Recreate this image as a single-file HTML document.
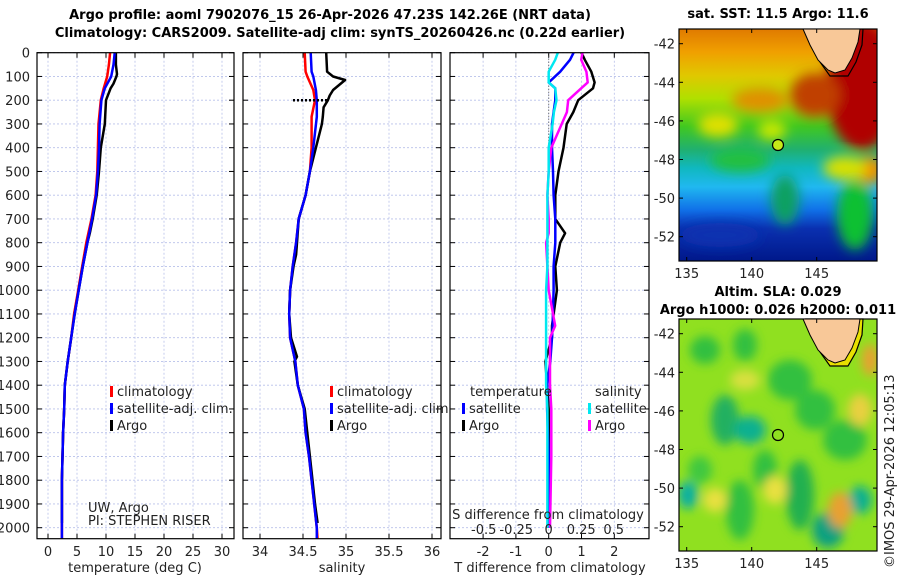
<!DOCTYPE html>
<html><head><meta charset="utf-8">
<style>
html,body{margin:0;padding:0;background:#fff;}
svg{display:block;font-family:"DejaVu Sans","Liberation Sans",sans-serif;}
.tk{font-size:13px;fill:#222;}
.bt{font-size:13px;font-weight:bold;fill:#000;}
</style></head>
<body>
<svg id="fig" width="900" height="580" viewBox="0 0 900 580">
<defs>
<filter id="blur1" x="-20%" y="-20%" width="140%" height="140%"><feGaussianBlur stdDeviation="6"/></filter>
<filter id="blur2" x="-20%" y="-20%" width="140%" height="140%"><feGaussianBlur stdDeviation="5"/></filter>
<clipPath id="m1clip"><rect x="679" y="29" width="198" height="232"/></clipPath>
<clipPath id="m2clip"><rect x="679" y="319" width="198" height="232"/></clipPath>
<clipPath id="p1clip"><rect x="37" y="52.7" width="197" height="486"/></clipPath>
<clipPath id="p2clip"><rect x="243" y="52.7" width="198" height="486"/></clipPath>
<clipPath id="p3clip"><rect x="450" y="52.7" width="199" height="486"/></clipPath>
<linearGradient id="sstg" x1="0" y1="0" x2="0" y2="1">
<stop offset="0" stop-color="#e07a00"/><stop offset="0.1" stop-color="#f0a000"/>
<stop offset="0.2" stop-color="#e0c800"/><stop offset="0.3" stop-color="#b0e000"/>
<stop offset="0.42" stop-color="#40c820"/><stop offset="0.52" stop-color="#20b070"/>
<stop offset="0.6" stop-color="#10b8c0"/><stop offset="0.68" stop-color="#20b8f0"/>
<stop offset="0.78" stop-color="#1070e8"/><stop offset="0.86" stop-color="#0a30b0"/>
<stop offset="1" stop-color="#00188a"/>
</linearGradient>
</defs>

<g>
<text class="bt" x="330" y="19" text-anchor="middle">Argo profile: aoml 7902076_15 26-Apr-2026 47.23S 142.26E (NRT data)</text>
<text class="bt" x="340" y="37" text-anchor="middle">Climatology: CARS2009. Satellite-adj clim: synTS_20260426.nc (0.22d earlier)</text>
</g>

<g id="panels"></g>

<!-- SST map -->
<g>
<text class="bt" x="778" y="18" text-anchor="middle">sat. SST: 11.5 Argo: 11.6</text>
<g clip-path="url(#m1clip)">
<rect x="679" y="29" width="198" height="232" fill="url(#sstg)"/>
<g filter="url(#blur1)">
<ellipse cx="862" cy="85" rx="36" ry="65" fill="#b00000"/>
<ellipse cx="815" cy="95" rx="25" ry="22" fill="#c04000"/>
<ellipse cx="870" cy="170" rx="14" ry="14" fill="#f09000"/>
<ellipse cx="845" cy="168" rx="22" ry="12" fill="#d8e000"/>
<ellipse cx="760" cy="100" rx="28" ry="12" fill="#e09000"/>
<ellipse cx="718" cy="125" rx="20" ry="12" fill="#e0e000"/>
<ellipse cx="772" cy="130" rx="14" ry="10" fill="#c8e800"/>
<ellipse cx="740" cy="160" rx="30" ry="12" fill="#20c040"/>
<ellipse cx="785" cy="200" rx="14" ry="25" fill="#10a060"/>
<ellipse cx="855" cy="215" rx="18" ry="35" fill="#10c030"/>
<ellipse cx="720" cy="235" rx="40" ry="12" fill="#0a30b0"/>
</g>
</g>
<rect x="679" y="29" width="198" height="232" fill="none" stroke="#000" stroke-width="1.2"/>
<path d="M806,29 L812,45 L820,62 L830,76 L848,76 L856,62 L862,45 L863,29" fill="none" stroke="#000" stroke-width="1.2"/>
<path d="M803,29 L810,45 L818,60 L828,70 L835,73 L845,70 L852,58 L858,42 L860,29 Z" fill="#f8c898" stroke="#000" stroke-width="1"/>
<circle cx="778" cy="145" r="5.5" fill="#c8e818" stroke="#000" stroke-width="1.2"/>
</g>
<g id="m1ticks"></g>

<!-- SLA map -->
<g>
<text class="bt" x="778" y="296" text-anchor="middle">Altim. SLA: 0.029</text>
<text class="bt" x="778" y="314" text-anchor="middle">Argo h1000: 0.026 h2000: 0.011</text>
<g clip-path="url(#m2clip)">
<rect x="679" y="319" width="198" height="232" fill="#90e020"/>
<g filter="url(#blur2)">
<ellipse cx="705" cy="350" rx="15" ry="14" fill="#30c040"/>
<ellipse cx="745" cy="345" rx="12" ry="16" fill="#30c040"/>
<ellipse cx="790" cy="380" rx="22" ry="20" fill="#30c040"/>
<ellipse cx="725" cy="420" rx="14" ry="25" fill="#20b060"/>
<ellipse cx="750" cy="430" rx="16" ry="14" fill="#10b090"/>
<ellipse cx="815" cy="410" rx="20" ry="20" fill="#30c040"/>
<ellipse cx="845" cy="440" rx="22" ry="20" fill="#30c040"/>
<ellipse cx="700" cy="470" rx="12" ry="14" fill="#40c840"/>
<ellipse cx="765" cy="470" rx="12" ry="20" fill="#30c040"/>
<ellipse cx="740" cy="510" rx="14" ry="30" fill="#30c040"/>
<ellipse cx="800" cy="495" rx="14" ry="35" fill="#20b050"/>
<ellipse cx="828" cy="530" rx="16" ry="18" fill="#10a080"/>
<ellipse cx="860" cy="500" rx="12" ry="14" fill="#10b090"/>
<ellipse cx="688" cy="495" rx="10" ry="14" fill="#10b0a0"/>
<ellipse cx="715" cy="500" rx="12" ry="12" fill="#e8e040"/>
<ellipse cx="775" cy="490" rx="12" ry="14" fill="#e8e040"/>
<ellipse cx="840" cy="510" rx="12" ry="18" fill="#e8a030"/>
<ellipse cx="870" cy="360" rx="8" ry="16" fill="#e8a030"/>
<ellipse cx="860" cy="410" rx="12" ry="16" fill="#e8d040"/>
<ellipse cx="745" cy="380" rx="15" ry="10" fill="#d8e040"/>
</g>
</g>
<rect x="679" y="319" width="198" height="232" fill="none" stroke="#000" stroke-width="1.2"/>
<path d="M806,319 L812,335 L820,352 L830,366 L848,366 L856,352 L862,335 L863,319 Z" fill="#e8e000" stroke="#000" stroke-width="1.2"/>
<path d="M803,319 L810,335 L818,350 L828,360 L835,363 L845,360 L852,348 L858,332 L860,319 Z" fill="#f8c898" stroke="#000" stroke-width="1"/>
<circle cx="778" cy="435" r="5.5" fill="none" stroke="#000" stroke-width="1.2"/>
</g>
<g id="m2ticks"></g>
<text class="tk" transform="translate(894,568) rotate(-90)" font-size="13">©IMOS 29-Apr-2026 12:05:13</text>
</svg>

<script>
// depth levels (m)
const depthClim = [0,50,100,150,200,300,400,500,600,700,800,900,1000,1100,1200,1300,1400,1500,1600,1800,2000,2050];
const tempClim  = [10.7,10.5,10.2,9.6,9.1,8.7,8.6,8.5,8.2,7.5,6.6,5.9,5.2,4.5,4.0,3.4,2.9,2.8,2.6,2.4,2.4,2.4];
const tempSat   = [11.5,11.3,10.9,9.8,9.2,8.9,8.8,8.6,8.3,7.6,6.8,6.0,5.3,4.6,4.0,3.4,2.9,2.8,2.6,2.4,2.4,2.4];
const depthArgo = [0,50,90,100,130,150,200,250,300,400,500,600,700,760,800,900,1000,1100,1200,1300,1400,1500,1600,1800,1980];
const tempArgo  = [11.7,11.7,11.9,11.8,11.3,10.8,10.0,9.9,9.8,9.1,8.8,8.4,7.7,7.2,6.8,6.0,5.3,4.6,4.0,3.4,2.9,2.8,2.6,2.4,2.4];

const salClimDepth = [0,80,100,157,200,270,400,500,600,700,800,900,1000,1100,1200,1300,1400,1500,1600,1700,1800,1900,2000,2050];
const salClim = [34.52,34.53,34.55,34.62,34.64,34.60,34.60,34.58,34.53,34.45,34.42,34.38,34.35,34.34,34.35,34.41,34.44,34.51,34.53,34.57,34.60,34.63,34.66,34.67];
const salSat  = [34.59,34.60,34.62,34.65,34.66,34.66,34.62,34.58,34.53,34.45,34.42,34.38,34.35,34.34,34.35,34.41,34.44,34.51,34.53,34.57,34.60,34.63,34.66,34.66];
const salArgoDepth = [0,80,100,115,157,180,200,230,270,300,400,500,600,700,800,850,900,1000,1100,1200,1280,1300,1400,1500,1600,1700,1800,1900,1980];
const salArgo = [34.77,34.78,34.85,34.99,34.85,34.81,34.79,34.74,34.73,34.72,34.65,34.58,34.53,34.45,34.43,34.42,34.39,34.35,34.34,34.36,34.43,34.40,34.44,34.52,34.55,34.58,34.61,34.64,34.67];

// differences from climatology
const diffDepth = [0,30,80,125,150,200,250,300,400,500,600,700,760,800,900,1000,1150,1200,1300,1400,1500,1700,2000];
const dTsat  = [0.76,0.65,0.35,0.0,0.2,0.2,0.15,0.1,0.1,0.13,0.15,0.2,0.2,0.2,0.15,0.15,0.12,0.1,0.05,-0.05,-0.05,0.0,0.0];
const dTargo = [1.0,1.1,1.3,1.4,1.35,0.9,0.75,0.55,0.45,0.3,0.2,0.2,0.5,0.35,0.2,0.25,0.1,0.1,-0.1,-0.05,0.0,0.0,0.0];
const dSsat  = [0.07,0.05,0.0,0.0,0.05,0.06,0.04,0.03,0.0,0.0,-0.01,-0.01,-0.01,-0.01,-0.01,-0.02,-0.02,-0.02,-0.02,-0.02,-0.01,-0.01,-0.01];
const dSargo = [0.26,0.25,0.29,0.3,0.25,0.15,0.14,0.1,0.02,0.0,-0.01,0.0,0.0,-0.02,-0.01,0.0,0.05,0.01,0.01,0.01,0.02,0.02,0.01];

const depthTicks = [0,100,200,300,400,500,600,700,800,900,1000,1100,1200,1300,1400,1500,1600,1700,1800,1900,2000];
const tempTicks = [0,5,10,15,20,25,30];
const salTicks = [34,34.5,35,35.5,36];
const salTickLabels = ["34","34.5","35","35.5","36"];
const dTTicks = [-2,-1,0,1,2];
const dSTicks = [-0.5,-0.25,0,0.25,0.5];
const dSTickLabels = ["-0.5","-0.25","0","0.25","0.5"];
const latTicks = [-42,-44,-46,-48,-50,-52];
const lonTicks = [135,140,145];

const NS = "http://www.w3.org/2000/svg";
const yD = d => 52.7 + d * 0.2375;
const x1 = t => 48 + t * 5.8;
const x2 = s => 346 + (s - 35) * 86;
const x3T = t => 548.7 + t * 32.8;
const x3S = s => 548.7 + s * 130;
const latY1 = la => 43.7 + (-42 - la) * 19.3;
const lonX = lo => 686.7 + (lo - 135) * 13;

const root = document.getElementById('panels');
function el(tag, attrs, parent) {
  const e = document.createElementNS(NS, tag);
  for (const k in attrs) e.setAttribute(k, attrs[k]);
  (parent || root).appendChild(e);
  return e;
}
function line(xs, ys, fx, fy, color, parent, name) {
  let d = '';
  for (let i = 0; i < xs.length; i++) d += (i ? 'L' : 'M') + fx(xs[i]).toFixed(1) + ',' + fy(ys[i]).toFixed(1);
  const p = el('path', {d: d, fill: 'none', stroke: color, 'stroke-width': 2.5, 'stroke-linejoin': 'round'}, parent);
  
  
  return p;
}
function text(x, y, s, anchor, parent, size) {
  const t = el('text', {x: x, y: y, 'text-anchor': anchor || 'start', class: 'tk'}, parent);
  if (size) t.setAttribute('font-size', size);
  t.textContent = s;
  return t;
}

function panel(name, left, right, xticks, fx, labels) {
  const g = el('g', {});
  
  
  el('rect', {x: left, y: 52.7, width: right - left, height: 486, fill: '#fff'}, g);
  for (const d of depthTicks) {
    el('line', {x1: left, x2: right, y1: yD(d), y2: yD(d), stroke: '#b8c0ea', 'stroke-width': 0.8, 'stroke-dasharray': '2,2'}, g);
    el('line', {x1: left, x2: left + 5, y1: yD(d), y2: yD(d), stroke: '#000'}, g);
    el('line', {x1: right - 5, x2: right, y1: yD(d), y2: yD(d), stroke: '#000'}, g);
  }
  xticks.forEach((v, i) => {
    el('line', {x1: fx(v), x2: fx(v), y1: 52.7, y2: 538.7, stroke: '#b8c0ea', 'stroke-width': 0.8, 'stroke-dasharray': '2,2'}, g);
    el('line', {x1: fx(v), x2: fx(v), y1: 533.7, y2: 538.7, stroke: '#000'}, g);
    el('line', {x1: fx(v), x2: fx(v), y1: 52.7, y2: 57.7, stroke: '#000'}, g);
    if (labels) text(fx(v), 556, labels[i], 'middle', g);
  });
  return g;
}

// panel 1
const g1 = panel('temperature-panel', 37, 234, tempTicks, x1, tempTicks.map(String));
depthTicks.forEach(d => text(30, yD(d) + 5, String(d), 'end', g1));
const c1 = el('g', {'clip-path': 'url(#p1clip)'}, g1);
line(tempClim, depthClim, x1, yD, '#ff0000', c1, 'temp-climatology-line');
line(tempArgo, depthArgo, x1, yD, '#000000', c1, 'temp-argo-line');
line(tempSat, depthClim, x1, yD, '#0000ff', c1, 'temp-satellite-line');
el('rect', {x: 37, y: 52.7, width: 197, height: 486, fill: 'none', stroke: '#000', 'stroke-width': 1.2}, g1);
text(135, 572, 'temperature (deg C)', 'middle', g1);

// panel 2
const g2 = panel('salinity-panel', 243, 441, salTicks, x2, salTickLabels);
const c2 = el('g', {'clip-path': 'url(#p2clip)'}, g2);
line(salClim, salClimDepth, x2, yD, '#ff0000', c2, 'sal-climatology-line');
line(salArgo, salArgoDepth, x2, yD, '#000000', c2, 'sal-argo-line');
line(salSat, salClimDepth, x2, yD, '#0000ff', c2, 'sal-satellite-line');
el('line', {x1: 293, x2: 327, y1: yD(200), y2: yD(200), stroke: '#000', 'stroke-width': 2.5, 'stroke-dasharray': '2,2'}, g2);
el('rect', {x: 243, y: 52.7, width: 198, height: 486, fill: 'none', stroke: '#000', 'stroke-width': 1.2}, g2);
text(342, 572, 'salinity', 'middle', g2);

// panel 3
const g3 = panel('difference-panel', 450, 649, dTTicks, x3T, dTTicks.map(String));
const c3 = el('g', {'clip-path': 'url(#p3clip)'}, g3);
el('line', {x1: x3T(0), x2: x3T(0), y1: 52.7, y2: yD(400), stroke: '#555', 'stroke-width': 1, 'stroke-dasharray': '1,2'}, c3);
line(dTargo, diffDepth, x3T, yD, '#000000', c3, 'diff-temp-argo-line');
line(dTsat, diffDepth, x3T, yD, '#0000ff', c3, 'diff-temp-satellite-line');
line(dSargo, diffDepth, x3S, yD, '#ff00ff', c3, 'diff-sal-argo-line');
line(dSsat, diffDepth, x3S, yD, '#00e8f0', c3, 'diff-sal-satellite-line');
el('rect', {x: 450, y: 52.7, width: 199, height: 486, fill: 'none', stroke: '#000', 'stroke-width': 1.2}, g3);
text(548, 519, 'S difference from climatology', 'middle', g3);
dSTicks.forEach((v, i) => text(x3S(v), 534, dSTickLabels[i], 'middle', g3));
text(550, 572, 'T difference from climatology', 'middle', g3);

// legends
function legItem(x, y, color, label, parent) {
  el('rect', {x: x, y: y - 10, width: 3, height: 11, fill: color}, parent);
  text(x + 7, y, label, 'start', parent);
}
const l1 = el('g', {}, g1);


legItem(110, 396, '#ff0000', 'climatology', l1);
legItem(110, 413, '#0000ff', 'satellite-adj. clim.', l1);
legItem(110, 430, '#000000', 'Argo', l1);
const l2 = el('g', {}, g2);


legItem(330, 396, '#ff0000', 'climatology', l2);
legItem(330, 413, '#0000ff', 'satellite-adj. clim.', l2);
legItem(330, 430, '#000000', 'Argo', l2);
const l3 = el('g', {}, g3);


text(470, 396, 'temperature', 'start', l3);
legItem(462, 413, '#0000ff', 'satellite', l3);
legItem(462, 430, '#000000', 'Argo', l3);
text(595, 396, 'salinity', 'start', l3);
legItem(588, 413, '#00e8f0', 'satellite', l3);
legItem(588, 430, '#ff00ff', 'Argo', l3);

const credit = el('g', {}, g1);


text(88, 512, 'UW, Argo', 'start', credit, 11);
text(88, 525, 'PI: STEPHEN RISER', 'start', credit, 11);

// map ticks
function mapTicks(id, off) {
  const g = document.getElementById(id);
  
  
  latTicks.forEach(la => {
    const y = latY1(la) + off;
    el('line', {x1: 679, x2: 683, y1: y, y2: y, stroke: '#000'}, g);
    el('line', {x1: 873, x2: 877, y1: y, y2: y, stroke: '#000'}, g);
    text(675, y + 5, String(la), 'end', g);
  });
  lonTicks.forEach(lo => {
    const x = lonX(lo);
    el('line', {x1: x, x2: x, y1: 257 + off, y2: 261 + off, stroke: '#000'}, g);
    el('line', {x1: x, x2: x, y1: 29 + off, y2: 33 + off, stroke: '#000'}, g);
    text(x, 278 + off, String(lo), 'middle', g);
  });
}
mapTicks('m1ticks', 0);
mapTicks('m2ticks', 290);
</script>
</body></html>
